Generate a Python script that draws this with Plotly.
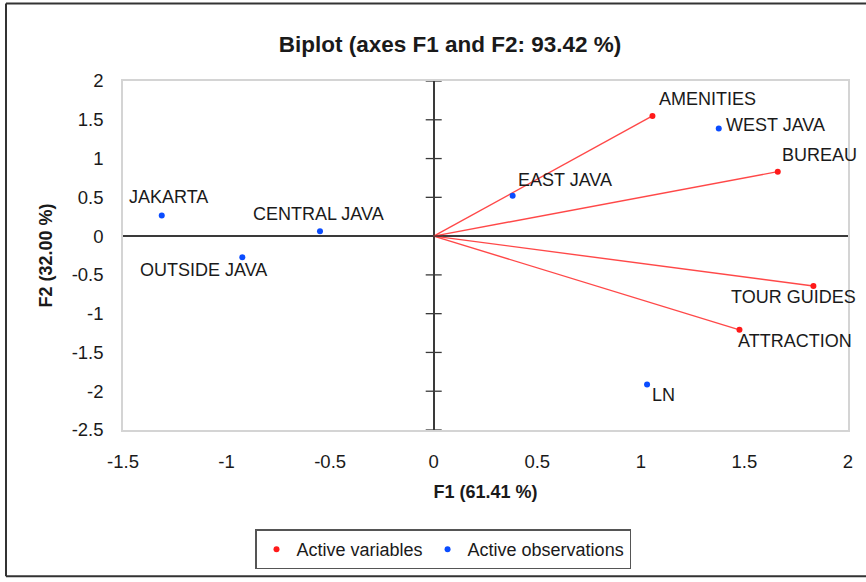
import plotly.graph_objects as go

# ---- data ----
var_names = ["AMENITIES", "BUREAU", "TOUR GUIDES", "ATTRACTION"]
var_f1 = [1.056, 1.661, 1.833, 1.476]
var_f2 = [1.549, 0.831, -0.644, -1.208]

obs_names = ["WEST JAVA", "EAST JAVA", "JAKARTA", "CENTRAL JAVA", "OUTSIDE JAVA", "LN"]
obs_f1 = [1.376, 0.381, -1.313, -0.549, -0.924, 1.030]
obs_f2 = [1.387, 0.519, 0.267, 0.062, -0.272, -1.913]

x_ticks = [-1.5, -1, -0.5, 0, 0.5, 1, 1.5, 2]
y_ticks = [2, 1.5, 1, 0.5, 0, -0.5, -1, -1.5, -2, -2.5]

# ---- styles ----
FONT = "Liberation Sans, Arial, sans-serif"
RED = "#ff1a1a"
BLUE = "#0a4cff"
AXIS = "#3a3a3a"
var_offsets = [(5, 17), (2, 17), (-84, -11), (-3, -11)]
obs_offsets = [(5, 4), (3, 16), (-35, 18), (-69, 17), (-104, -13), (3, -11)]

W, H = 866, 582
L, R, T, B = 123, 848, 81, 432


def px_x(p):
    return (p - L) / (R - L)


def px_y(p):
    return (B - p) / (B - T)


fig = go.Figure()

# vectors from origin to each variable
lx, ly = [], []
for a, b in zip(var_f1, var_f2):
    lx += [0, a, None]
    ly += [0, b, None]
fig.add_trace(go.Scatter(x=lx, y=ly, mode="lines",
                         line=dict(color="rgba(255,40,40,0.85)", width=1.4),
                         showlegend=False, hoverinfo="skip"))

fig.add_trace(go.Scatter(x=var_f1, y=var_f2, mode="markers", name="Active variables",
                         marker=dict(color=RED, size=6), text=var_names))
fig.add_trace(go.Scatter(x=obs_f1, y=obs_f2, mode="markers", name="Active observations",
                         marker=dict(color=BLUE, size=6), text=obs_names))

annotations = []
for names, xs, ys, offs in [(var_names, var_f1, var_f2, var_offsets),
                             (obs_names, obs_f1, obs_f2, obs_offsets)]:
    for n, a, b, (dx, dy) in zip(names, xs, ys, offs):
        annotations.append(dict(x=a, y=b, xref="x", yref="y", text=n, showarrow=False,
                                xanchor="left", yanchor="middle", xshift=dx, yshift=dy,
                                font=dict(family=FONT, size=18, color="#1a1a1a")))

shapes = []
# tick marks crossing the vertical zero axis
for t in y_ticks:
    shapes.append(dict(type="line", xref="x", yref="y", xsizemode="pixel", xanchor=0,
                       x0=-8, x1=8, y0=t, y1=t, line=dict(color=AXIS, width=1.3)))
# outer frame of the figure (left, top, bottom edges)
frame = dict(color="#333333", width=2)
shapes.append(dict(type="line", xref="paper", yref="paper", x0=px_x(6), x1=px_x(6),
                   y0=px_y(579), y1=px_y(3), line=frame))
shapes.append(dict(type="line", xref="paper", yref="paper", x0=px_x(6), x1=px_x(866),
                   y0=px_y(3), y1=px_y(3), line=frame))
shapes.append(dict(type="line", xref="paper", yref="paper", x0=px_x(6), x1=px_x(866),
                   y0=px_y(579), y1=px_y(579), line=frame))

fig.update_layout(
    width=W, height=H,
    margin=dict(l=L, r=W - R, t=T, b=H - B),
    paper_bgcolor="white", plot_bgcolor="white",
    font=dict(family=FONT, size=18, color="#1a1a1a"),
    title=dict(text="<b>Biplot (axes F1 and F2: 93.42 %)</b>", x=450 / W, xanchor="center",
               xref="container", yref="container", y=1 - 44 / H, yanchor="middle",
               font=dict(family=FONT, size=22.5, color="#1a1a1a")),
    xaxis=dict(range=[-1.5, 2], tickvals=x_ticks, ticktext=[f"{v:g}" for v in x_ticks],
               showgrid=False, zeroline=True, zerolinecolor=AXIS, zerolinewidth=1.5,
               showline=True, mirror=True, linecolor="#d4d4d4", linewidth=1.5,
               ticks="outside", ticklen=14, tickcolor="rgba(0,0,0,0)",
               tickfont=dict(size=18.5),
               title=dict(text="<b>F1 (61.41 %)</b>", font=dict(size=18), standoff=14),
               fixedrange=True),
    yaxis=dict(range=[-2.5, 2], tickvals=y_ticks, ticktext=[f"{v:g}" for v in y_ticks],
               showgrid=False, zeroline=True, zerolinecolor=AXIS, zerolinewidth=1.5,
               showline=True, mirror=True, linecolor="#d4d4d4", linewidth=1.5,
               ticks="outside", ticklen=14, tickcolor="rgba(0,0,0,0)",
               tickfont=dict(size=18.5),
               title=dict(text="<b>F2 (32.00 %)</b>", font=dict(size=18), standoff=14),
               fixedrange=True),
    legend=dict(orientation="h", x=px_x(443), xanchor="center", y=px_y(532), yanchor="top",
                bordercolor="#555555", borderwidth=1.5, bgcolor="white",
                font=dict(family=FONT, size=18, color="#1a1a1a"),
                itemwidth=30, entrywidth=0),
    annotations=annotations,
    shapes=shapes,
    showlegend=True,
)

fig.write_html("out.html")
